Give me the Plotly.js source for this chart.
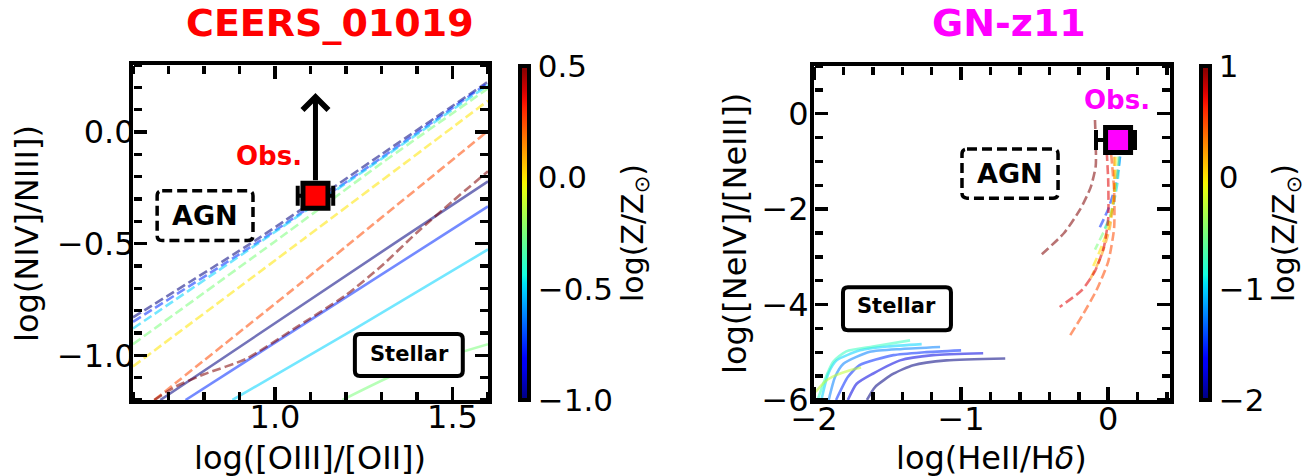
<!DOCTYPE html>
<html><head><meta charset="utf-8">
<script src="https://cdn.plot.ly/plotly-3.0.1.min.js"></script>
<style>html,body{margin:0;padding:0;background:#fff;}#chart{width:1313px;height:476px;}</style>
</head><body><div id="chart"></div>
<script>
// ================= DATA =================
const leftZRange = [-1.0, 0.5];
const leftAgnZ = [-1.0, -0.75, -0.5, -0.25, 0.0, 0.25, 0.5];
const leftAgnX = [
  [0.6, 0.95, 1.3, 1.6],
  [0.6, 0.95, 1.3, 1.6],
  [0.6, 0.97, 1.3, 1.6],
  [0.6, 1.0, 1.3, 1.6],
  [0.6, 1.08, 1.6],
  [0.66, 1.074, 1.6],
  [0.66, 0.72, 0.80, 0.92, 1.05, 1.2, 1.3, 1.4, 1.5, 1.6]
];
const leftAgnY = [
  [-0.83, -0.48, -0.10, 0.225],
  [-0.85, -0.495, -0.115, 0.22],
  [-0.88, -0.48, -0.12, 0.21],
  [-0.95, -0.49, -0.14, 0.195],
  [-1.05, -0.48, 0.14],
  [-1.2, -0.675, 0.005],
  [-1.2, -1.14, -1.085, -1.015, -0.885, -0.73, -0.6, -0.45, -0.31, -0.176]
];
const leftStarZ = [-1.0, -0.75, -0.5, -0.25];
const leftStarX = [
  [0.677, 1.35, 1.6],
  [0.748, 1.6],
  [0.88, 1.226, 1.6],
  [1.19, 1.368, 1.6]
];
const leftStarY = [
  [-1.2, -0.484, -0.221],
  [-1.2, -0.333],
  [-1.2, -0.88, -0.526],
  [-1.2, -1.065, -0.95]
];
const leftObsX = [1.114];
const leftObsY = [-0.285];
const leftObsXerr = [0.05];
const leftLimitTipY = 0.175;

const rightZRange = [-2, 1];
const rightAgnZ = [-1.5, -1.0, -0.5, 0.0, 0.25, 0.5, 0.75, 1.0];
const rightAgnX = [
  [0.08, 0.05, 0.0, -0.06],
  [0.08, 0.06, 0.02, -0.03],
  [0.07, 0.05, 0.01, -0.05, -0.09],
  [0.05, 0.04, 0.0, -0.06, -0.11],
  [0.04, 0.04, 0.01, -0.05, -0.12],
  [0.02, 0.04, 0.04, 0.0, -0.08, -0.18, -0.26],
  [-0.01, 0.0, 0.0, -0.03, -0.09, -0.18, -0.33],
  [-0.09, -0.085, -0.085, -0.12, -0.19, -0.30, -0.46]
];
const rightAgnY = [
  [-0.9, -1.5, -2.0, -2.4],
  [-0.9, -1.5, -2.1, -2.45],
  [-0.9, -1.6, -2.2, -2.6, -2.85],
  [-0.9, -1.7, -2.4, -2.9, -3.25],
  [-0.9, -1.7, -2.4, -3.0, -3.45],
  [-0.85, -1.6, -2.4, -3.1, -3.7, -4.25, -4.65],
  [-0.8, -1.4, -2.2, -2.8, -3.3, -3.7, -4.05],
  [-0.13, -0.6, -1.1, -1.55, -2.0, -2.5, -2.97]
];
const rightStarZ = [-2.0, -1.75, -1.5, -1.25, -1.0, -0.75, -0.25];
const rightStarX = [
  [-1.64, -1.585, -1.46, -1.325, -1.10, -0.70],
  [-1.77, -1.71, -1.60, -1.415, -1.19, -0.85],
  [-1.85, -1.77, -1.69, -1.46, -1.25, -1.0],
  [-1.90, -1.857, -1.80, -1.62, -1.40, -1.143],
  [-1.95, -1.903, -1.846, -1.687, -1.50, -1.268],
  [-1.975, -1.93, -1.87, -1.78, -1.6, -1.347],
  [-1.99, -1.92, -1.85, -1.76, -1.68]
];
const rightStarY = [
  [-6.0, -5.73, -5.45, -5.27, -5.17, -5.13],
  [-6.0, -5.66, -5.45, -5.17, -5.06, -5.02],
  [-6.0, -5.52, -5.27, -5.06, -5.0, -4.96],
  [-6.0, -5.52, -5.24, -4.99, -4.93, -4.89],
  [-6.0, -5.45, -5.17, -4.96, -4.88, -4.83],
  [-6.0, -5.6, -5.2, -4.98, -4.88, -4.75],
  [-5.83, -5.6, -5.48, -5.38, -5.32]
];
const rightObsX = [0.067];
const rightObsY = [-0.552];
const rightObsXerrPlus = [0.115];
const rightObsXerrMinus = [0.15];

// ================= STYLE HELPERS =================
const JR = [[0,0],[0.35,0],[0.66,1],[0.89,1],[1,0.5]];
const JG = [[0,0],[0.125,0],[0.375,1],[0.64,1],[0.91,0],[1,0]];
const JB = [[0,0.5],[0.11,1],[0.34,1],[0.65,0],[1,0]];
function pw(pts, f){
  for (let i=1;i<pts.length;i++){
    if (f<=pts[i][0]){ const a=pts[i-1], b=pts[i]; return a[1]+(b[1]-a[1])*(f-a[0])/(b[0]-a[0]); }
  }
  return pts[pts.length-1][1];
}
function jet(f){ f=Math.max(0,Math.min(1,f)); return [pw(JR,f),pw(JG,f),pw(JB,f)].map(v=>Math.round(v*255)); }
const jetScale = [];
for (let i=0;i<=40;i++){ const c=jet(i/40); jetScale.push([i/40, `rgb(${c[0]},${c[1]},${c[2]})`]); }
function zColor(z, zr, a){ const c=jet((z-zr[0])/(zr[1]-zr[0])); return `rgba(${c[0]},${c[1]},${c[2]},${a})`; }

const traces = [];
function addLines(xs, ys, zs, zr, dash, xa, ya){
  for (let i=0;i<xs.length;i++){
    traces.push({x:xs[i], y:ys[i], xaxis:xa, yaxis:ya, mode:'lines', hoverinfo:'skip', showlegend:false,
      line:{color:zColor(zs[i], zr, 0.55), width:2.6, dash:dash, shape:'spline', smoothing:0.6}});
  }
}
addLines(leftStarX, leftStarY, leftStarZ, leftZRange, 'solid', 'x', 'y');
addLines(leftAgnX, leftAgnY, leftAgnZ, leftZRange, '9px,4px', 'x', 'y');
addLines(rightStarX, rightStarY, rightStarZ, rightZRange, 'solid', 'x2', 'y2');
addLines(rightAgnX, rightAgnY, rightAgnZ, rightZRange, '9px,4px', 'x2', 'y2');

traces.push({x:leftObsX, y:leftObsY, xaxis:'x', yaxis:'y', mode:'markers', showlegend:false, hoverinfo:'skip',
  marker:{symbol:'square', size:25, color:'#ff0000', line:{color:'black', width:5}},
  error_x:{type:'data', array:leftObsXerr, color:'black', thickness:4, width:10}});
traces.push({x:rightObsX, y:rightObsY, xaxis:'x2', yaxis:'y2', mode:'markers', showlegend:false, hoverinfo:'skip',
  marker:{symbol:'square', size:25, color:'#ff00ff', line:{color:'black', width:5}},
  error_x:{type:'data', symmetric:false, array:rightObsXerrPlus, arrayminus:rightObsXerrMinus, color:'black', thickness:4, width:10}});

function cbar(xpix, dt, fmt){
  return {x:xpix/1313, xanchor:'left', xref:'paper', y:(0.1597+0.8613)/2, yanchor:'middle', len:0.7016, lenmode:'fraction',
    thickness:9, thicknessmode:'pixels', outlinewidth:4, outlinecolor:'black', xpad:0, ypad:0,
    tick0:0, dtick:dt, tickformat:fmt, ticks:'',
    tickfont:{family:'DejaVu Sans', size:31, color:'black'},
    title:{text:'log(Z/Z<sub>⊙</sub>)', side:'right', font:{family:'DejaVu Sans', size:30, color:'black'}}};
}
traces.push({x:[null], y:[null], xaxis:'x', yaxis:'y', mode:'markers', showlegend:false, hoverinfo:'skip',
  marker:{color:[leftZRange[0]], cmin:leftZRange[0], cmax:leftZRange[1], colorscale:jetScale, showscale:true, colorbar:cbar(520, 0.5, '.1f')}});
traces.push({x:[null], y:[null], xaxis:'x2', yaxis:'y2', mode:'markers', showlegend:false, hoverinfo:'skip',
  marker:{color:[rightZRange[0]], cmin:rightZRange[0], cmax:rightZRange[1], colorscale:jetScale, showscale:true, colorbar:cbar(1201, 1, 'd')}});

// ================= LAYOUT =================
const tf = {family:'DejaVu Sans', size:32, color:'black'};
function ax(extra){
  return Object.assign({showgrid:false, zeroline:false, showline:true, linewidth:4, linecolor:'black', mirror:true,
    ticks:'', tickfont:tf, automargin:false, fixedrange:true}, extra);
}
const titleFont = {family:'DejaVu Sans', size:32, color:'black'};
const leftXDom = [133/1313, 488/1313], leftYDom = [0.1597, 0.8634];
const rightXDom = [814/1313, 1170/1313], rightYDom = [0.1597, 0.8613];

function roundBox(xref, yref, x0, x1, y0, y1, pxX, pxY, dash, w){
  const rx = 5/pxX, ry = 5/pxY;
  const p = `M${x0+rx},${y1} L${x1-rx},${y1} Q${x1},${y1} ${x1},${y1-ry} L${x1},${y0+ry} Q${x1},${y0} ${x1-rx},${y0} ` +
            `L${x0+rx},${y0} Q${x0},${y0} ${x0},${y0+ry} L${x0},${y1-ry} Q${x0},${y1} ${x0+rx},${y1} Z`;
  return {type:'path', xref:xref, yref:yref, path:p, layer:'above', fillcolor:'white', line:{color:'black', width:w, dash:dash}};
}

const layout = {
  width:1313, height:476, margin:{l:0, r:0, t:0, b:0}, paper_bgcolor:'white', plot_bgcolor:'white', showlegend:false,
  font:{family:'DejaVu Sans', color:'black'},
  xaxis: ax({domain:leftXDom, range:[0.6,1.6], tick0:0, dtick:0.5, tickformat:'.1f', anchor:'y', ticklabelstandoff:-14}),
  yaxis: ax({domain:leftYDom, range:[-1.2,0.3], tick0:0, dtick:0.5, tickformat:'.1f', anchor:'x', ticklabelstandoff:-12}),
  xaxis2: ax({domain:rightXDom, range:[-2,0.42], tick0:0, dtick:1, anchor:'y2', ticklabelstandoff:-12}),
  yaxis2: ax({domain:rightYDom, range:[-6,1], tick0:0, dtick:2, anchor:'x2', ticklabelstandoff:-5}),
  shapes:[
    roundBox('x', 'y', 0.668, 0.938, -0.486, -0.263, 352, 224, '10px,5px', 3.5),
    roundBox('x', 'y', 1.225, 1.529, -1.093, -0.905, 352, 224, 'solid', 4),
    roundBox('x2', 'y2', -0.994, -0.341, -1.769, -0.741, 147.1, 47.67, '10px,5px', 3.5),
    roundBox('x2', 'y2', -1.803, -1.069, -4.538, -3.636, 147.1, 47.67, 'solid', 4)
  ],
  annotations:[
    {xref:'paper', yref:'paper', x:330/1313, y:1-23/476, text:'<b>CEERS_01019</b>', showarrow:false, xanchor:'center', yanchor:'middle', font:{family:'DejaVu Sans', size:38, color:'#ff0000'}},
    {xref:'paper', yref:'paper', x:1009/1313, y:1-23/476, text:'<b>GN-z11</b>', showarrow:false, xanchor:'center', yanchor:'middle', font:{family:'DejaVu Sans', size:38, color:'#ff00ff'}},
    {xref:'paper', yref:'paper', x:310/1313, y:1-458/476, text:'log([OIII]/[OII])', showarrow:false, xanchor:'center', yanchor:'middle', font:titleFont},
    {xref:'paper', yref:'paper', x:27/1313, y:1-234/476, text:'log(NIV]/NIII])', textangle:-90, showarrow:false, xanchor:'center', yanchor:'middle', font:titleFont},
    {xref:'paper', yref:'paper', x:991/1313, y:1-458/476, text:'log(HeII/H<i>δ</i>)', showarrow:false, xanchor:'center', yanchor:'middle', font:titleFont},
    {xref:'paper', yref:'paper', x:735/1313, y:1-234/476, text:'log([NeIV]/[NeIII])', textangle:-90, showarrow:false, xanchor:'center', yanchor:'middle', font:titleFont},
    {xref:'x', yref:'y', x:leftObsX[0], y:leftLimitTipY, ax:leftObsX[0], ay:leftObsY[0], axref:'x', ayref:'y', text:'', showarrow:true,
      arrowhead:4, arrowwidth:5, arrowsize:1, arrowcolor:'black', standoff:0, startstandoff:14},
    {xref:'x', yref:'y', x:0.984, y:-0.109, text:'<b>Obs.</b>', showarrow:false, font:{family:'DejaVu Sans', size:26, color:'#ff0000'}},
    {xref:'x', yref:'y', x:0.803, y:-0.374, text:'<b>AGN</b>', showarrow:false, font:{family:'DejaVu Sans', size:27, color:'black'}},
    {xref:'x', yref:'y', x:1.378, y:-0.995, text:'<b>Stellar</b>', showarrow:false, font:{family:'DejaVu Sans', size:21, color:'black'}},
    {xref:'x2', yref:'y2', x:0.06, y:0.287, text:'<b>Obs.</b>', showarrow:false, font:{family:'DejaVu Sans', size:26, color:'#ff00ff'}},
    {xref:'x2', yref:'y2', x:-0.667, y:-1.255, text:'<b>AGN</b>', showarrow:false, font:{family:'DejaVu Sans', size:27, color:'black'}},
    {xref:'x2', yref:'y2', x:-1.437, y:-4.04, text:'<b>Stellar</b>', showarrow:false, font:{family:'DejaVu Sans', size:21, color:'black'}}
  ]
};

// Inward-pointing major/minor ticks on all four sides, drawn as tick-only overlay axes
function tickAx(o){
  return Object.assign({ticks:'outside', tickwidth:3.5, tickcolor:'black', showticklabels:false, showline:false,
    showgrid:false, zeroline:false, fixedrange:true, tick0:0}, o);
}
function addTickOverlays(xMain, yMain, n0, xr, yr, xd, yd, xdt, xmdt, ydt, ymdt){
  const xs = [['top', yd[0], xdt, 13], ['bottom', yd[1], xdt, 13], ['top', yd[0], xmdt, 8], ['bottom', yd[1], xmdt, 8]];
  const ys = [['right', xd[0], ydt, 13], ['left', xd[1], ydt, 13], ['right', xd[0], ymdt, 8], ['left', xd[1], ymdt, 8]];
  xs.forEach((s, i) => {
    const id = n0 + i;
    layout['xaxis' + id] = tickAx({overlaying:xMain, anchor:'free', position:s[1], side:s[0], domain:xd, range:xr, dtick:s[2], ticklen:s[3]});
    traces.push({x:[null], y:[null], xaxis:'x' + id, yaxis:yMain, mode:'markers', showlegend:false, hoverinfo:'skip'});
  });
  ys.forEach((s, i) => {
    const id = n0 + i;
    layout['yaxis' + id] = tickAx({overlaying:yMain, anchor:'free', position:s[1], side:s[0], domain:yd, range:yr, dtick:s[2], ticklen:s[3]});
    traces.push({x:[null], y:[null], xaxis:xMain, yaxis:'y' + id, mode:'markers', showlegend:false, hoverinfo:'skip'});
  });
}
addTickOverlays('x', 'y', 3, [0.6,1.6], [-1.2,0.3], leftXDom, leftYDom, 0.5, 0.1, 0.5, 0.1);
addTickOverlays('x2', 'y2', 7, [-2,0.42], [-6,1], rightXDom, rightYDom, 1, 0.2, 2, 0.5);

Plotly.newPlot('chart', traces, layout, {staticPlot:true, displayModeBar:false});
</script>
</body></html>
